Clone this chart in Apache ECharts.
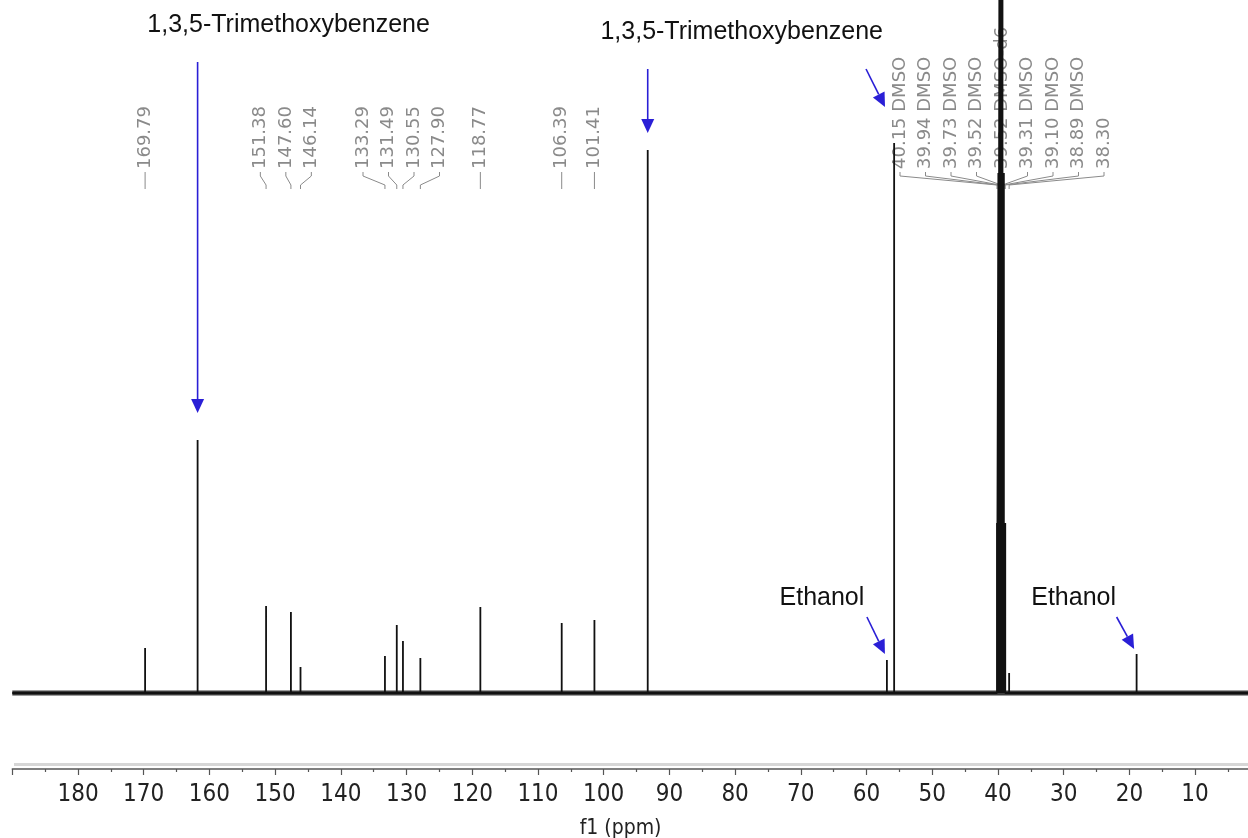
<!DOCTYPE html>
<html>
<head>
<meta charset="utf-8" />
<title>13C NMR f1 (ppm)</title>
<script src="https://cdn.jsdelivr.net/npm/echarts@6/dist/echarts.min.js"></script>
<style type="text/css">
body, html {
	margin: 0;
	padding: 0;
	background-color: #ffffff;
}
#main {
	width: 1248px;
	height: 838px;
}
</style>
</head>
<body>
<div id="main"></div>
<script>
// peaks: shift (ppm) and height (px above the baseline)
let peakPpm = [169.79, 161.80, 151.38, 147.60, 146.14, 133.29, 131.49, 130.55, 127.90, 118.77,
	106.39, 101.41, 93.30, 56.90, 55.80, 40.15, 39.94, 39.73, 39.52, 39.31, 39.10, 38.89, 38.30, 18.90];
let peakHeight = [45, 253, 87, 81, 26, 37, 68, 52, 35, 86,
	70, 73, 543, 33, 550, 170, 520, 1000, 1200, 1000, 520, 170, 20, 39];

// peak labels printed above the spectrum
let labelPpm = [169.79, 151.38, 147.60, 146.14, 133.29, 131.49, 130.55, 127.90, 118.77, 106.39, 101.41,
	40.15, 39.94, 39.73, 39.52, 39.52, 39.31, 39.10, 38.89, 38.30];
let labelText = ['169.79', '151.38', '147.60', '146.14', '133.29', '131.49', '130.55', '127.90', '118.77', '106.39', '101.41',
	'40.15 DMSO', '39.94 DMSO', '39.73 DMSO', '39.52 DMSO', '39.52 DMSO-d6', '39.31 DMSO', '39.10 DMSO', '38.89 DMSO', '38.30'];

// x axis range and ticks
let axisMin = 0;
let axisMax = 190;
let tickStep = 10;

let blue = '#2a1fd6';
let labelGray = '#8a8a8a';

let chart = echarts.init(document.getElementById('main'));

// stick spectrum: baseline, up to each peak and back
let order = peakPpm.map(function(p, i) { return i; }).sort(function(a, b) { return peakPpm[b] - peakPpm[a]; });
let specData = [[axisMax, 0]];
order.forEach(function(i) {
	specData.push([peakPpm[i], 0], [peakPpm[i], peakHeight[i]], [peakPpm[i], 0]);
});
specData.push([axisMin, 0]);

chart.setOption({
	animation: false,
	grid: {
		left: 12.3,
		right: -12.8,
		top: 0,
		bottom: 69,
		containLabel: false,
		outerBoundsMode: 'none'
	},
	xAxis: {
		type: 'value',
		inverse: true,
		min: axisMin,
		max: axisMax,
		interval: tickStep,
		name: 'f1 (ppm)',
		nameLocation: 'middle',
		nameGap: 49,
		nameTextStyle: {
			fontFamily: 'DejaVu Sans Condensed',
			fontSize: 21,
			color: '#222',
			padding: [0, 32, 0, 0]
		},
		axisLine: { onZero: false, lineStyle: { color: '#555', width: 1.5 } },
		axisTick: { length: 6, lineStyle: { color: '#555', width: 1.2 } },
		minorTick: { show: true, splitNumber: 2, length: 3, lineStyle: { color: '#555', width: 1.2 } },
		axisLabel: {
			fontFamily: 'DejaVu Sans Condensed',
			fontSize: 24,
			color: '#222',
			margin: 14,
			showMinLabel: false,
			showMaxLabel: false
		},
		splitLine: { show: false },
		minorSplitLine: { show: false }
	},
	yAxis: {
		type: 'value',
		show: false,
		min: -76,
		max: 693,
		splitLine: { show: false }
	},
	series: [
		{
			// noise band along the baseline
			name: 'baseline',
			type: 'line',
			symbol: 'none',
			silent: true,
			data: [[axisMax, 0], [axisMin, 0]],
			lineStyle: { color: '#1a1a1a', width: 5, opacity: 0.85 }
		},
		{
			name: '13C',
			type: 'line',
			symbol: 'none',
			data: specData,
			lineStyle: { color: '#111', width: 1.8 }
		}
	]
});

function px(ppm, h) {
	return chart.convertToPixel({ gridIndex: 0 }, [ppm, h]);
}

// spread the peak labels so they do not overlap (like the NMR software does)
let spacing = 25.5;
let clusters = [];
labelPpm.forEach(function(p, i) {
	clusters.push({ items: [i], sum: px(p, 0)[0] });
	while (clusters.length > 1) {
		let a = clusters[clusters.length - 2];
		let b = clusters[clusters.length - 1];
		let aLast = a.sum / a.items.length + (a.items.length - 1) / 2 * spacing;
		let bFirst = b.sum / b.items.length - (b.items.length - 1) / 2 * spacing;
		if (aLast + spacing > bFirst) {
			a.items = a.items.concat(b.items);
			a.sum += b.sum;
			clusters.pop();
		} else {
			break;
		}
	}
});

let graphics = [];
let labelX = [];
clusters.forEach(function(c) {
	let mid = c.sum / c.items.length;
	c.items.forEach(function(idx, k) {
		labelX[idx] = mid + (k - (c.items.length - 1) / 2) * spacing;
	});
});

labelPpm.forEach(function(p, i) {
	let lx = labelX[i];
	let pX = px(p, 0)[0];
	graphics.push({
		type: 'polyline',
		silent: true,
		shape: { points: [[lx, 172], [lx, 176], [pX, 185], [pX, 189]] },
		style: { stroke: labelGray, lineWidth: 1, fill: null }
	});
	graphics.push({
		type: 'text',
		silent: true,
		x: lx,
		y: 169,
		rotation: Math.PI / 2,
		style: {
			text: labelText[i],
			fontFamily: 'DejaVu Sans',
			fontSize: 18,
			fill: labelGray,
			align: 'left',
			verticalAlign: 'middle'
		}
	});
});

function arrow(x0, y0, x1, y1) {
	let dx = x1 - x0, dy = y1 - y0;
	let len = Math.sqrt(dx * dx + dy * dy);
	let ux = dx / len, uy = dy / len;
	let hl = 14, hw = 6.5;
	let bx = x1 - ux * hl, by = y1 - uy * hl;
	graphics.push({
		type: 'line',
		silent: true,
		shape: { x1: x0, y1: y0, x2: bx, y2: by },
		style: { stroke: blue, lineWidth: 1.6 }
	});
	graphics.push({
		type: 'polygon',
		silent: true,
		shape: { points: [[x1, y1], [bx - uy * hw, by + ux * hw], [bx + uy * hw, by - ux * hw]] },
		style: { fill: blue }
	});
}

function note(text, x, y) {
	graphics.push({
		type: 'text',
		silent: true,
		x: x,
		y: y,
		style: {
			text: text,
			fontFamily: 'Liberation Sans',
			fontSize: 25,
			fill: '#111',
			align: 'center',
			verticalAlign: 'middle'
		}
	});
}

// 1,3,5-trimethoxybenzene arrows
let tmb1 = px(161.80, 253);
arrow(tmb1[0], 62, tmb1[0], tmb1[1] - 27);
note('1,3,5-Trimethoxybenzene', tmb1[0] + 91, 25);
let tmb2 = px(93.30, 543);
arrow(tmb2[0], 69, tmb2[0], tmb2[1] - 17);
note('1,3,5-Trimethoxybenzene', tmb2[0] + 94, 32);

// arrow to the DMSO labels
let dmsoX = labelX[11];
arrow(dmsoX - 34, 69, dmsoX - 15, 107);

// ethanol arrows
let et1 = px(56.90, 33);
arrow(et1[0] - 20, et1[1] - 43, et1[0] - 2, et1[1] - 6);
note('Ethanol', et1[0] - 65, 598);
let et2 = px(18.90, 39);
arrow(et2[0] - 20, et2[1] - 37, et2[0] - 2.5, et2[1] - 5);
note('Ethanol', et2[0] - 63, 598);

// light double rule above the axis line
graphics.push({
	type: 'rect',
	silent: true,
	shape: { x: 14, y: 763, width: 1234, height: 3 },
	style: { fill: '#d6d6d6' }
});

chart.setOption({ graphic: graphics });
</script>
</body>
</html>
